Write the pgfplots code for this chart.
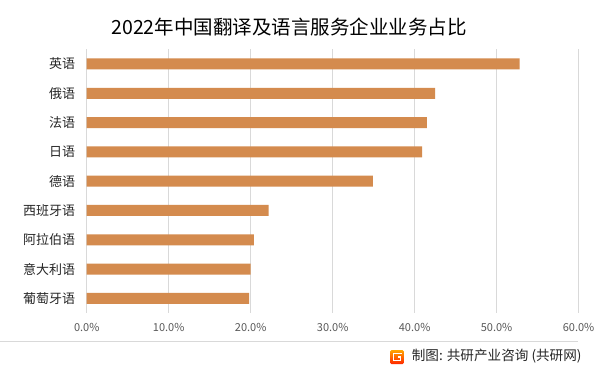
\documentclass[border=0pt]{standalone}
\usepackage{fontspec}
\setmainfont{Noto Sans CJK SC}
\usepackage{pgfplots}
\pgfplotsset{compat=1.18}
\definecolor{barc}{HTML}{D48B4E}
\definecolor{gridc}{HTML}{D9D9D9}
\definecolor{tickc}{HTML}{595959}
\definecolor{labc}{HTML}{262626}
\begin{document}
\begin{tikzpicture}[x=1pt,y=1pt]
\path[use as bounding box, fill=white] (0,0) rectangle (599,-370);
\begin{axis}[at={(86.7pt,-313pt)}, anchor=south west, scale only axis,
  width=491.9pt, height=263.7pt,
  xbar, bar width=11pt,
  xmin=0, xmax=60, ymin=-0.5, ymax=8.5, y dir=reverse,
  ytick={0,...,8},
  yticklabels={英语,俄语,法语,日语,德语,西班牙语,阿拉伯语,意大利语,葡萄牙语},
  xtick={0,10,...,60},
  xticklabel={\pgfmathprintnumber[fixed,fixed zerofill,precision=1]{\tick}\%},
  /pgf/number format/assume math mode=true,
  axis line style={draw=none},
  xmajorgrids, major grid style={gridc, line width=0.8pt},
  major tick length=0pt,
  xticklabel style={font=\fontsize{11}{11}\selectfont, text=tickc, yshift=-6.5pt},
  yticklabel style={font=\fontsize{13}{13}\selectfont, text=labc, xshift=-8pt},
]
\addplot[fill=barc, draw=none] coordinates {(52.8,0) (42.5,1) (41.5,2) (40.9,3) (34.9,4) (22.2,5) (20.4,6) (20.0,7) (19.8,8)};
\end{axis}
\node[text=black] at (289,-26.7) {\fontsize{19.5}{19.5}\selectfont 2022年中国翻译及语言服务企业业务占比};
\draw[gridc, line width=0.8pt] (0,-341.7) -- (578,-341.7);
\shade[top color=orange!70!yellow, bottom color=red!70!orange, rounded corners=1.5pt] (390,-350) rectangle (404,-364);
\draw[white, line width=1.8pt] (401.5,-353.5) -- (393.5,-353.5) -- (393.5,-360.5) -- (400.5,-360.5) -- (400.5,-357) -- (397.5,-357);
\node[anchor=east, text=labc, inner sep=0pt] at (581.7,-356) {\fontsize{13.6}{13.6}\selectfont 制图: 共研产业咨询 (共研网)};
\end{tikzpicture}
\end{document}
